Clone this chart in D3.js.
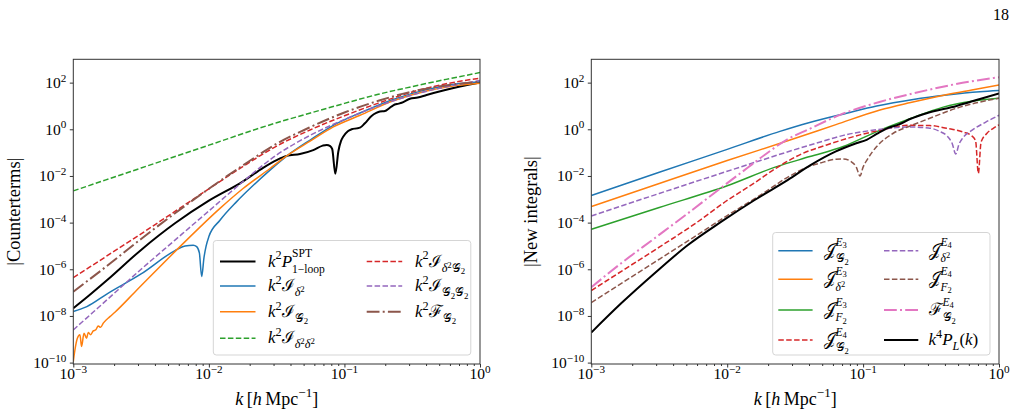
<!DOCTYPE html>
<html>
<head>
<meta charset="utf-8">
<script src="https://cdn.jsdelivr.net/npm/d3@7"></script>
<style>
  body { margin: 0; background: #fff; }
  svg text { font-family: "Liberation Serif", "DejaVu Serif", serif; fill: #000; }
</style>
</head>
<body>
<svg id="fig" width="1022" height="417"></svg>
<script>
// every series is a list of [log10 k, log10 value]

// left panel: counterterms
var leftP1loop = [[-3,-7.67],[-2.9,-7.2],[-2.75,-6.46],[-2.5,-5.17],[-2.25,-4.03],[-2,-3.06],[-1.75,-2.24],[-1.6,-1.65],
  [-1.5,-1.32],[-1.426,-1.14],[-1.328,-1.06],[-1.23,-0.89],[-1.16,-0.7],[-1.131,-0.67],[-1.105,-0.72],[-1.09,-0.85],
  [-1.067,-1.91],[-1.045,-0.95],[-1.025,-0.5],[-1.008,-0.31],[-0.975,-0.08],[-0.947,0.0],[-0.91,0.04],[-0.885,0.07],
  [-0.849,0.26],[-0.8,0.57],[-0.765,0.7],[-0.738,0.76],[-0.701,0.78],[-0.67,0.9],[-0.64,1.03],[-0.6,1.1],[-0.578,1.14],
  [-0.517,1.31],[-0.46,1.36],[-0.394,1.47],[-0.271,1.66],[-0.148,1.83],[0,2.01]];
var leftIdelta2 = [[-3,-7.81],[-2.9,-7.6],[-2.75,-7.05],[-2.5,-6.2],[-2.25,-5.2],[-2.176,-5.0],[-2.115,-4.97],[-2.09,-5.03],
  [-2.07,-5.3],[-2.053,-6.31],[-2.036,-5.5],[-2.02,-5.0],[-2,-4.6],[-1.918,-3.9],[-1.795,-3.1],[-1.672,-2.4],[-1.549,-1.75],
  [-1.426,-1.15],[-1.25,-0.45],[-1.082,0.17],[-0.885,0.7],[-0.64,1.28],[-0.394,1.7],[-0.2,1.92],[0,2.04]];
var leftIG2 = [[-3,-9.96],[-2.988,-9.46],[-2.97,-8.96],[-2.951,-8.81],[-2.939,-9.31],[-2.921,-8.74],[-2.902,-8.96],
  [-2.89,-8.71],[-2.872,-8.81],[-2.853,-8.64],[-2.835,-8.6],[-2.816,-8.43],[-2.799,-8.49],[-2.779,-8.31],[-2.73,-8.03],
  [-2.693,-7.84],[-2.533,-6.9],[-2.213,-5.03],[-1.918,-3.39],[-1.75,-2.55],[-1.549,-1.68],[-1.426,-1.14],[-1.25,-0.5],
  [-1.082,0.1],[-0.885,0.6],[-0.64,1.22],[-0.394,1.64],[-0.2,1.85],[0,1.97]];
var leftId2d2 = [[-3,-2.64],[-2.5,-1.66],[-2,-0.68],[-1.5,0.28],[-1.25,0.7],[-1,1.11],[-0.75,1.5],[-0.5,1.83],[-0.25,2.14],[0,2.43]];
var leftId2G2 = [[-3,-6.36],[-2.75,-5.42],[-2.5,-4.48],[-2.25,-3.52],[-2,-2.55],[-1.75,-1.6],[-1.5,-0.72],[-1.25,-0.02],
  [-1,0.58],[-0.75,1.12],[-0.5,1.6],[-0.25,1.95],[0,2.19]];
var leftIG2G2 = [[-3,-8.6],[-2.75,-7.3],[-2.5,-6.0],[-2.25,-4.75],[-2,-3.5],[-1.75,-2.25],[-1.5,-1.1],[-1.25,-0.25],
  [-1,0.42],[-0.75,1.0],[-0.5,1.47],[-0.25,1.82],[0,2.09]];
var leftFG2 = [[-3,-6.96],[-2.75,-5.85],[-2.5,-4.7],[-2.25,-3.6],[-2,-2.55],[-1.75,-1.55],[-1.5,-0.62],[-1.25,0.1],
  [-1,0.72],[-0.75,1.22],[-0.5,1.62],[-0.25,1.88],[0,2.04]];

// right panel: new integrals
var rightJG2E3 = [[-3,-2.84],[-2.5,-1.84],[-2,-0.86],[-1.612,-0.09],[-1.4,0.28],[-1.121,0.69],[-0.9,1.0],[-0.631,1.28],
  [-0.385,1.47],[-0.14,1.61],[0,1.66]];
var rightJd2E3 = [[-3,-3.31],[-2.5,-2.32],[-2,-1.34],[-1.538,-0.46],[-1.2,0.2],[-0.876,0.83],[-0.65,1.15],[-0.434,1.43],
  [-0.2,1.68],[0,1.9]];
var rightJF2E3 = [[-3,-4.29],[-2.5,-3.35],[-2,-2.42],[-1.636,-1.6],[-1.391,-1.17],[-1.146,-0.74],[-0.9,-0.1],[-0.655,0.45],
  [-0.41,0.95],[-0.2,1.2],[0,1.33]];
var rightJG2E4 = [[-3,-6.91],[-2.75,-5.98],[-2.5,-5.05],[-2.25,-4.1],[-2,-3.05],[-1.8,-2.3],[-1.636,-1.65],[-1.45,-1.05],
  [-1.268,-0.67],[-1.023,-0.24],[-0.8,0.05],[-0.68,0.17],[-0.51,0.16],[-0.385,0.04],[-0.262,-0.12],[-0.2,-0.28],
  [-0.172,-0.5],[-0.152,-1.89],[-0.132,-0.55],[-0.09,-0.18],[-0.04,0.05],[0,0.19]];
var rightJd2E4 = [[-3,-3.72],[-2.5,-2.75],[-2,-1.8],[-1.75,-1.33],[-1.513,-0.89],[-1.3,-0.52],[-1.145,-0.26],[-0.9,-0.02],
  [-0.655,0.1],[-0.52,0.06],[-0.44,-0.08],[-0.38,-0.3],[-0.345,-0.6],[-0.318,-1.06],[-0.295,-0.65],[-0.27,-0.4],
  [-0.2,-0.05],[-0.1,0.3],[0,0.6]];
var rightJF2E4 = [[-3,-7.43],[-2.75,-6.5],[-2.5,-5.57],[-2.25,-4.64],[-2,-3.7],[-1.75,-2.8],[-1.553,-2.05],[-1.4,-1.6],
  [-1.317,-1.45],[-1.2,-1.28],[-1.145,-1.27],[-1.09,-1.38],[-1.05,-1.62],[-1.023,-2.0],[-1.0,-1.62],[-0.97,-1.3],
  [-0.9,-0.74],[-0.778,-0.17],[-0.655,0.14],[-0.533,0.42],[-0.287,0.95],[0,1.33]];
var rightFG2E4 = [[-3,-6.77],[-2.78,-5.74],[-2.534,-4.67],[-2.289,-3.6],[-2.043,-2.5],[-1.85,-1.65],[-1.725,-1.1],
  [-1.563,-0.45],[-1.4,0.0],[-1.17,0.62],[-0.88,1.17],[-0.63,1.54],[-0.385,1.86],[-0.2,2.06],[0,2.23]];
var rightk4PL = [[-3,-8.71],[-2.78,-7.46],[-2.534,-6.17],[-2.289,-4.96],[-2.043,-3.96],[-1.798,-3.03],[-1.553,-2.17],
  [-1.39,-1.55],[-1.2,-0.95],[-1.05,-0.6],[-0.974,-0.45],[-0.9,-0.2],[-0.82,0.05],[-0.74,0.2],[-0.65,0.45],
  [-0.533,0.69],[-0.312,1.0],[-0.14,1.3],[0,1.54]];

// tick labels (exponents of ten)
var xTickExps = [-3, -2, -1, 0];
var yTickExps = [-10, -8, -6, -4, -2, 0, 2];

// legend labels as math pieces [text, level, flags]
// level: b base, ^ sup, _ sub, _^ sup inside sub, __ sub inside sub, ^_ sub inside sup (suffix s = stacked form)
// flags: i italic, S start of a sup/sub stack, B end of the sup part (rewind), E end of stack
var G = '\ud835\udca2', J = '\ud835\udca5', I = '\u2110', F = '\u2131', d = '\u03b4';
var leftLabels = [
  [['k','b','i'],['2','^'],['P','b','i'],['SPT','^s','SB'],['1\u2212loop','_s','E']],
  [['k','b','i'],['2','^'],[I,'b'],[d,'_','i'],['2','_^']],
  [['k','b','i'],['2','^'],[I,'b'],[G,'_'],['2','__']],
  [['k','b','i'],['2','^'],[I,'b'],[d,'_','i'],['2','_^'],[d,'_','i'],['2','_^']],
  [['k','b','i'],['2','^'],[I,'b'],[d,'_','i'],['2','_^'],[G,'_'],['2','__']],
  [['k','b','i'],['2','^'],[I,'b'],[G,'_'],['2','__'],[G,'_'],['2','__']],
  [['k','b','i'],['2','^'],[F,'b'],[G,'_'],['2','__']]
];
var rightLabels = [
  [[J,'b'],['E','^s','iS'],['3','^_s','B'],[G,'_s'],['2','__s','E']],
  [[J,'b'],['E','^s','iS'],['3','^_s','B'],[d,'_s','i'],['2','_^s','E']],
  [[J,'b'],['E','^s','iS'],['3','^_s','B'],['F','_s','i'],['2','__s','E']],
  [[J,'b'],['E','^s','iS'],['4','^_s','B'],[G,'_s'],['2','__s','E']],
  [[J,'b'],['E','^s','iS'],['4','^_s','B'],[d,'_s','i'],['2','_^s','E']],
  [[J,'b'],['E','^s','iS'],['4','^_s','B'],['F','_s','i'],['2','__s','E']],
  [[F,'b'],['E','^s','iS'],['4','^_s','B'],[G,'_s'],['2','__s','E']],
  [['k','b','i'],['4','^'],['P','b','i'],['L','_','i'],['(','b'],['k','b','i'],[')','b']]
];

var C = { blue:'#1f77b4', orange:'#ff7f0e', green:'#2ca02c', red:'#d62728', purple:'#9467bd', brown:'#8c564b', pink:'#e377c2', black:'#000' };
var DASH = '5.5,2.4', DASHDOT = '12.8,3.2,2,3.2';

var leftSeries = [
  { d: leftP1loop, c: C.black, w: 2 },
  { d: leftIdelta2, c: C.blue, w: 1.5 },
  { d: leftIG2, c: C.orange, w: 1.5 },
  { d: leftId2d2, c: C.green, w: 1.5, dash: DASH },
  { d: leftId2G2, c: C.red, w: 1.5, dash: DASH },
  { d: leftIG2G2, c: C.purple, w: 1.5, dash: DASH },
  { d: leftFG2, c: C.brown, w: 2, dash: DASHDOT }
];
var rightSeries = [
  { d: rightJG2E3, c: C.blue, w: 1.5 },
  { d: rightJd2E3, c: C.orange, w: 1.5 },
  { d: rightJF2E3, c: C.green, w: 1.5 },
  { d: rightJG2E4, c: C.red, w: 1.5, dash: DASH },
  { d: rightJd2E4, c: C.purple, w: 1.5, dash: DASH },
  { d: rightJF2E4, c: C.brown, w: 1.5, dash: DASH },
  { d: rightFG2E4, c: C.pink, w: 2, dash: DASHDOT },
  { d: rightk4PL, c: C.black, w: 2 }
];

var svg = d3.select('#fig');

// size factor and baseline shift (in units of base size) per level
var LEVEL = {
  'b':  [1, 0],
  '^':  [0.72, -0.42],
  '_':  [0.72, 0.3],
  '_^': [0.52, 0.06],
  '__': [0.52, 0.45],
  '^_': [0.52, -0.3],
  '^s': [0.68, -0.55],
  '_s': [0.68, 0.38],
  '^_s': [0.5, -0.44],
  '_^s': [0.5, 0.14],
  '__s': [0.5, 0.52]
};

// draw a little formula left-aligned at (0,0) of g, returns width
function mathText(g, parts, base) {
  var cx = 0, stackX = 0, supEnd = 0;
  parts.forEach(function (p) {
    var lv = LEVEL[p[1]], fl = p[2] || '';
    if (fl.indexOf('S') >= 0) stackX = cx;
    var el = g.append('text').attr('x', cx).attr('y', base * lv[1])
      .style('font-size', (base * lv[0]) + 'px')
      .style('font-style', fl.indexOf('i') >= 0 ? 'italic' : 'normal')
      .text(p[0]);
    cx += el.node().getComputedTextLength();
    if (fl.indexOf('B') >= 0) { supEnd = cx; cx = stackX; }
    if (fl.indexOf('E') >= 0) { cx = Math.max(cx, supEnd); }
  });
  return cx;
}

function expStr(e) { return e < 0 ? '\u2212' + (-e) : '' + e; }

function panel(opt) {
  var L = opt.left, R = opt.right, T = 59.3, B = 364;
  var x = d3.scaleLog().domain([1e-3, 1]).range([L, R]);
  var y = d3.scaleLog().domain([Math.pow(10, -10.06), 1000]).range([B, T]);
  var g = svg.append('g');

  var clipId = 'clip' + Math.round(L);
  g.append('clipPath').attr('id', clipId).append('rect')
    .attr('x', L).attr('y', T).attr('width', R - L).attr('height', B - T);

  var line = d3.line()
    .x(function (p) { return x(Math.pow(10, p[0])); })
    .y(function (p) { return y(Math.pow(10, p[1])); })
    .curve(d3.curveMonotoneX);

  var lines = g.append('g').attr('clip-path', 'url(#' + clipId + ')');
  opt.series.forEach(function (s) {
    lines.append('path').attr('d', line(s.d))
      .attr('fill', 'none').attr('stroke', s.c).attr('stroke-width', s.w)
      .attr('stroke-dasharray', s.dash || null);
  });

  // axes
  var minors = [];
  [-3, -2, -1].forEach(function (n) { for (var m = 2; m <= 9; m++) minors.push(m * Math.pow(10, n)); });
  var ax = g.append('g').attr('transform', 'translate(0,' + B + ')').style('color', '#333');
  ax.call(d3.axisBottom(x).tickValues(xTickExps.map(function (e) { return Math.pow(10, e); })).tickSize(3.5).tickFormat(''));
  ax.append('g').call(d3.axisBottom(x).tickValues(minors).tickSize(2).tickFormat(''));
  ax.selectAll('.domain').remove();
  var ay = g.append('g').attr('transform', 'translate(' + L + ',0)').style('color', '#333');
  ay.call(d3.axisLeft(y).tickValues(yTickExps.map(function (e) { return Math.pow(10, e); })).tickSize(3.5).tickFormat(''));
  ay.selectAll('.domain').remove();

  xTickExps.forEach(function (e) {
    var tg = g.append('g');
    var w = mathText(tg, [['10', 'b'], [expStr(e), '^']], 15.5);
    tg.attr('transform', 'translate(' + (x(Math.pow(10, e)) - w / 2) + ',379)');
  });
  yTickExps.forEach(function (e) {
    var tg = g.append('g');
    var w = mathText(tg, [['10', 'b'], [expStr(e), '^']], 15.5);
    tg.attr('transform', 'translate(' + (L - 7 - w) + ',' + (y(Math.pow(10, e)) + 5.5) + ')');
  });

  // axis labels
  var xl = g.append('g');
  var xw = mathText(xl, [['k', 'b', 'i'], ['\u2009[', 'b'], ['h', 'b', 'i'], ['\u2009Mpc', 'b'], ['\u22121', '^'], [']', 'b']], 18);
  xl.attr('transform', 'translate(' + ((L + R) / 2 - xw / 2) + ',405)');
  g.append('text').attr('transform', 'translate(' + opt.ylabX + ',' + ((T + B) / 2) + ') rotate(-90)')
    .attr('text-anchor', 'middle').style('font-size', '18.5px').text(opt.ylabel);

  // frame
  g.append('rect').attr('x', L).attr('y', T).attr('width', R - L).attr('height', B - T)
    .attr('fill', 'none').attr('stroke', '#333').attr('stroke-width', 1);

  // legend
  var lg = opt.legend;
  var leg = g.append('g');
  leg.append('rect').attr('x', lg.x).attr('y', lg.y).attr('width', lg.w).attr('height', lg.h).attr('rx', 3)
    .attr('fill', '#fff').attr('fill-opacity', 0.8).attr('stroke', '#d5d5d5').attr('stroke-width', 1);
  opt.series.forEach(function (s, i) {
    var col = i < lg.perCol ? 0 : 1, row = i % lg.perCol;
    var hx = lg.hx[col], ry = lg.rows[row];
    leg.append('line').attr('x1', hx).attr('x2', hx + lg.hl).attr('y1', ry).attr('y2', ry)
      .attr('stroke', s.c).attr('stroke-width', s.w).attr('stroke-dasharray', s.dash || null);
    var tg = leg.append('g').attr('transform', 'translate(' + lg.tx[col] + ',' + (ry + 5) + ')');
    mathText(tg, opt.labels[i], 17);
  });
}

panel({
  left: 73.3, right: 480, series: leftSeries, labels: leftLabels,
  ylabel: '|Counterterms|', ylabX: 20,
  legend: { x: 213.3, y: 240.5, w: 257.5, h: 114.5, perCol: 4, rows: [261.5, 286, 311.7, 338.3],
            hx: [220, 366.7], hl: 35.5, tx: [268, 415] }
});
panel({
  left: 591.3, right: 999, series: rightSeries, labels: rightLabels,
  ylabel: '|New integrals|', ylabX: 537,
  legend: { x: 772.7, y: 232.5, w: 217.3, h: 122.5, perCol: 4, rows: [250.7, 279.3, 310, 340],
            hx: [778.3, 884], hl: 34.3, tx: [823.5, 928.5] }
});

// page number
svg.append('text').attr('x', 1009).attr('y', 20).attr('text-anchor', 'end').style('font-size', '16px').text('18');
</script>
</body>
</html>
